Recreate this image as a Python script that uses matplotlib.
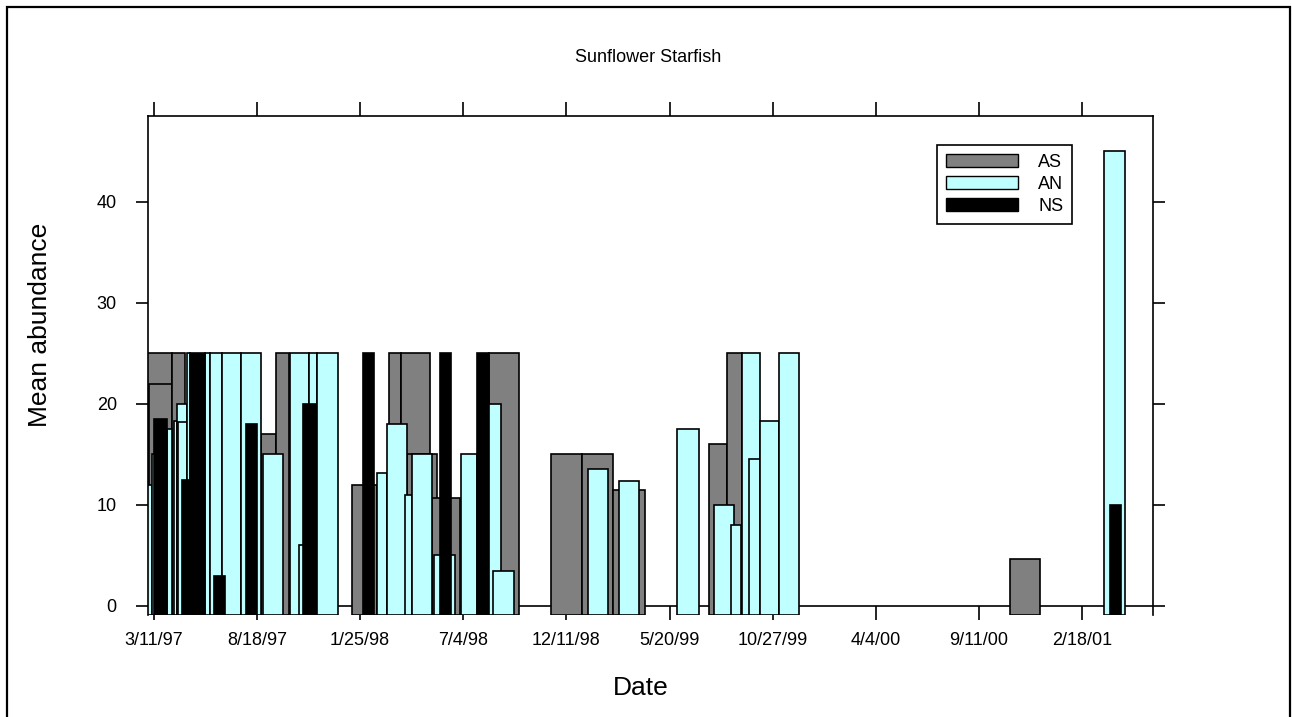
import matplotlib
matplotlib.use('Agg')
import matplotlib.pyplot as plt
import matplotlib.dates as mdates
import pandas as pd
from matplotlib.patches import Rectangle, Patch

plt.rcParams['font.family'] = ['Liberation Sans', 'DejaVu Sans']

# sampling periods (start, end) and mean abundance per site
as_start = ['1997-02-17', '1997-03-03', '1997-04-09', '1997-08-24', '1997-09-16',
            '1998-01-13', '1998-03-11', '1998-03-29', '1998-04-07', '1998-05-17',
            '1998-08-13', '1998-11-17', '1999-01-05', '1999-02-22', '1999-07-21',
            '1999-08-17', '2000-10-29']
as_end = ['1997-04-09', '1997-04-09', '1997-04-28', '1997-09-16', '1997-10-06',
          '1998-02-20', '1998-03-29', '1998-05-14', '1998-05-25', '1998-06-29',
          '1998-09-29', '1999-01-05', '1999-02-22', '1999-04-12', '1999-08-17',
          '1999-09-09', '2000-12-15']
as_mean = [25, 22, 25, 17, 25, 12, 25, 25, 15, 10.7, 25, 15, 15, 11.5, 16, 25, 4.6]

an_start = ['1997-02-28', '1997-03-08', '1997-03-31', '1997-04-11', '1997-04-16',
            '1997-04-17', '1997-05-01', '1997-05-29', '1997-06-06', '1997-06-25',
            '1997-07-24', '1997-08-27', '1997-10-08', '1997-11-06', '1997-11-19',
            '1997-10-22', '1998-02-20', '1998-03-08', '1998-04-04', '1998-04-15',
            '1998-05-19', '1998-06-30', '1998-08-12', '1998-08-19', '1999-01-13',
            '1999-03-03', '1999-06-01', '1999-07-28', '1999-08-24', '1999-09-09',
            '1999-09-20', '1999-10-08', '1999-11-06', '2001-03-24']
an_end = ['1997-03-08', '1997-03-17', '1997-04-09', '1997-04-16', '1997-05-01',
          '1997-05-01', '1997-05-06', '1997-06-06', '1997-06-25', '1997-07-24',
          '1997-08-24', '1997-09-27', '1997-11-06', '1997-11-19', '1997-12-21',
          '1997-10-30', '1998-03-08', '1998-04-07', '1998-04-15', '1998-05-16',
          '1998-06-21', '1998-07-26', '1998-08-31', '1998-09-21', '1999-02-14',
          '1999-04-03', '1999-07-04', '1999-08-28', '1999-09-08', '1999-10-08',
          '1999-10-07', '1999-11-06', '1999-12-07', '2001-04-26']
an_mean = [12, 15, 17.5, 18.3, 20, 18.2, 25, 25, 25, 25, 25, 15, 25, 25, 25, 6,
           13.2, 18, 11, 15, 5, 15, 20, 3.5, 13.6, 12.4, 17.5, 10, 8, 25, 14.5,
           18.3, 25, 45]

ns_start = ['1997-03-11', '1997-04-24', '1997-05-06', '1997-06-12', '1997-08-01',
            '1997-10-29', '1998-01-29', '1998-05-29', '1998-07-26', '2001-04-02']
ns_end = ['1997-03-31', '1997-05-06', '1997-05-29', '1997-06-29', '1997-08-18',
          '1997-11-18', '1998-02-15', '1998-06-15', '1998-08-13', '2001-04-19']
ns_mean = [18.5, 12.5, 25, 3, 18, 20, 25, 25, 25, 10]

tick_start = '1997-03-11'
tick_step_days = 160
n_ticks = 10

YMIN, YMAX = -0.9, 48.5

fig = plt.figure(figsize=(12.92, 7.17), dpi=100)
ax = fig.add_axes([148 / 1292, 102 / 717, 1005 / 1292, 499 / 717])
ax.set_axisbelow(True)


def draw_bars(starts, ends, vals, color):
    s = mdates.date2num(pd.to_datetime(starts))
    e = mdates.date2num(pd.to_datetime(ends))
    for x0, x1, v in zip(s, e, vals):
        ax.bar(x0, v - YMIN, width=x1 - x0, bottom=YMIN, align='edge',
               color=color, edgecolor='black', linewidth=1.2, zorder=2)


ax.axhline(0, color='black', linewidth=1.2, zorder=1)
draw_bars(as_start, as_end, as_mean, '#808080')
draw_bars(an_start, an_end, an_mean, '#c0ffff')
draw_bars(ns_start, ns_end, ns_mean, 'black')

ax.set_xlim(mdates.date2num(pd.Timestamp('1997-03-02')),
            mdates.date2num(pd.Timestamp('2001-06-08')))
ax.set_ylim(YMIN, YMAX)

ticks = pd.date_range(tick_start, periods=n_ticks, freq=f'{tick_step_days}D')
ax.set_xticks(mdates.date2num(ticks))
ax.set_xticklabels([f"{d.month}/{d.day}/{d.strftime('%y')}" for d in ticks])
ax.set_yticks([0, 10, 20, 30, 40])

# x axis sits on the zero line, ticks run down under the bars
ax.spines['bottom'].set_position(('data', 0))
ax.spines['bottom'].set_color('none')
for side in ('left', 'right', 'top'):
    ax.spines[side].set_linewidth(1.2)

ax.tick_params(axis='x', direction='out', length=10, width=1.2, top=True,
               labelsize=13, pad=9)
ax.tick_params(axis='y', direction='out', length=8.5, width=1.2, right=True,
               labelsize=13, pad=14)

handles = [Patch(facecolor='#808080', edgecolor='black', label='AS'),
           Patch(facecolor='#c0ffff', edgecolor='black', label='AN'),
           Patch(facecolor='black', edgecolor='black', label='NS')]
leg = ax.legend(handles=handles, loc='upper left', bbox_to_anchor=(0.785, 0.942),
                borderaxespad=0, fontsize=13, handlelength=4.0, handleheight=0.72,
                labelspacing=0.28, handletextpad=1.1, borderpad=0.5,
                fancybox=False, framealpha=1)
leg.get_frame().set_edgecolor('black')
leg.get_frame().set_linewidth(1.2)

fig.text(648 / 1292, 1 - 58 / 717, 'Sunflower Starfish', ha='center', va='center',
         fontsize=13)
fig.text(40 / 1292, 1 - 325 / 717, 'Mean abundance', ha='center', va='center',
         rotation=90, fontsize=19)
fig.text(641 / 1292, 1 - 688 / 717, 'Date', ha='center', va='center', fontsize=19)

fig.patches.append(Rectangle((7 / 1292, -0.02), 1283 / 1292, 1.02 - 7 / 717,
                             transform=fig.transFigure, fill=False,
                             edgecolor='black', linewidth=1.6))

fig.savefig('out.png', dpi=100)
